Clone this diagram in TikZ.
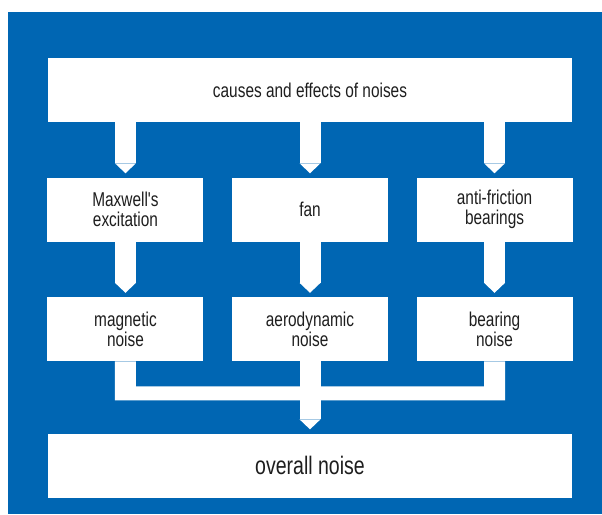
\documentclass[tikz,border=0pt]{standalone}
\usepackage{fontspec}
\newfontfamily\condfont{Liberation Sans}[FakeStretch=0.77]
\usetikzlibrary{positioning,arrows.meta}
\definecolor{plateblue}{RGB}{0,102,179}
\definecolor{inkgrey}{RGB}{30,30,30}

\tikzset{
  box/.style={fill=white, text=inkgrey, align=center, inner sep=0pt,
    minimum width=117pt, minimum height=48pt,
    font=\condfont\fontsize{15}{15}\selectfont},
  widebox/.style={box, minimum width=393pt},
  feed/.style={white, line width=15.75pt,
    -{Triangle[length=7.5pt, width=15.75pt, line width=0pt]}}
}

\begin{document}
\begin{tikzpicture}[x=0.75pt, y=-0.75pt, node distance=41.25pt and 21pt]
\useasboundingbox (0,0) rectangle (602,514);
\fill[plateblue] (8,12) rectangle (602,514);

\node[widebox] (causes) at (310,90) {causes and effects of noises};
\node[box, below=of causes] (fan) {fan};
\node[box, left=of fan] (maxwell) {Maxwell's\\excitation};
\node[box, right=of fan] (bearings) {anti-friction\\bearings};
\node[box, below=of fan] (aero) {aerodynamic\\noise};
\node[box, left=of aero] (magnet) {magnetic\\noise};
\node[box, right=of aero] (bearnoise) {bearing\\noise};
\node[widebox, below=54pt of aero, font=\condfont\fontsize{19}{20}\selectfont] (overall) {overall noise};

% feeds from the top box
\draw[feed] (causes.south -| maxwell) -- ([yshift=3pt]maxwell.north);
\draw[feed] (causes.south -| fan) -- ([yshift=3pt]fan.north);
\draw[feed] (causes.south -| bearings) -- ([yshift=3pt]bearings.north);

% causes to noises
\draw[feed] (maxwell.south) -- ([yshift=3pt]magnet.north);
\draw[feed] (fan.south) -- ([yshift=3pt]aero.north);
\draw[feed] (bearings.south) -- ([yshift=3pt]bearnoise.north);

% collecting bar
\fill[white] ([xshift=-7.875pt]magnet.south) -- ++(0,-29.25pt)
  -| ([xshift=7.875pt]bearnoise.south) -- ++(-15.75pt,0)
  |- ([xshift=7.875pt,yshift=-18.75pt]magnet.south)
  -- ([xshift=7.875pt]magnet.south) -- cycle;
\draw[feed] (aero.south) -- ([yshift=3pt]overall.north);
\end{tikzpicture}
\end{document}
